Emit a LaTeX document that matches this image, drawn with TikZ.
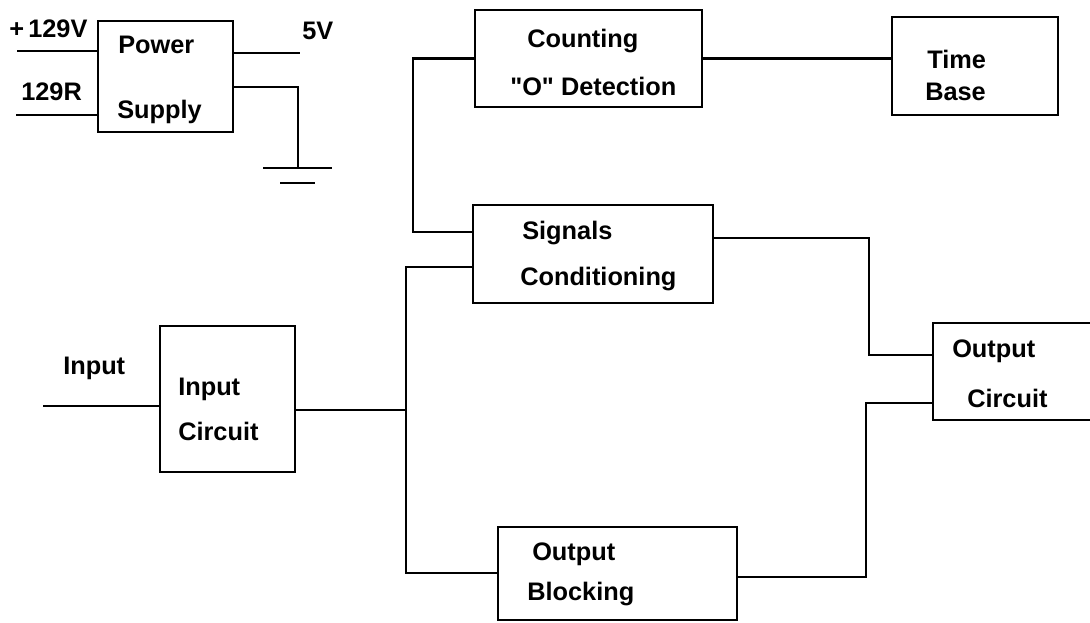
\documentclass[tikz,border=0pt]{standalone}
\usepackage{fontspec}
\setmainfont{Liberation Sans}

\tikzset{
  box/.style 2 args={draw, line width=1.9pt, inner sep=0pt, outer sep=0pt, anchor=north west,
    minimum width=#1*0.75pt, minimum height=#2*0.75pt},
  wire/.style={line width=1.9pt},
  txt/.style={anchor=base west, inner sep=0pt, font=\bfseries\fontsize{19}{21}\selectfont}
}

\begin{document}
\begin{tikzpicture}[x=0.75pt,y=0.75pt,yscale=-1,xscale=1]
    \clip (0,0) rectangle (1090,622);
    % blocks
    \node [box={135}{111}] (ps) at (98,21) {};
    \node [box={227}{97}] (cnt) at (475,10) {};
    \node [box={166}{98}] (tb) at (892,17) {};
    \node [box={240}{98}] (sig) at (473,205) {};
    \node [box={135}{146}] (inc) at (160,326) {};
    \node [box={239}{93}] (ob) at (498,527) {};
    \node [box={180}{97}] (oc) at (933,323) {};
    % texts
    \node [txt] (tpv) at (9,37) {+\,129V};
    \node [txt] (trr) at (21,100) {129R};
    \node [txt] (tps1) at (118,53) {Power};
    \node [txt] (tps2) at (117,118) {Supply};
    \node [txt] (t5v) at (302,39) {5V};
    \node [txt] (tcn1) at (527,47) {Counting};
    \node [txt] (tcn2) at (510,95) {\textquotedbl O\textquotedbl{} Detection};
    \node [txt] (ttb1) at (927,68) {Time};
    \node [txt] (ttb2) at (925,100) {Base};
    \node [txt] (tsg1) at (522,239) {Signals};
    \node [txt] (tsg2) at (520,285) {Conditioning};
    \node [txt] (tin) at (63,374) {Input};
    \node [txt] (tic1) at (178,395) {Input};
    \node [txt] (tic2) at (178,440) {Circuit};
    \node [txt] (tob1) at (532,560) {Output};
    \node [txt] (tob2) at (527,600) {Blocking};
    \node [txt] (toc1) at (952,357) {Output};
    \node [txt] (toc2) at (967,407) {Circuit};
    % wire points
    \coordinate (pv) at (17,51);
    \coordinate (pr) at (16,115);
    \coordinate (p5) at (300,53);
    \coordinate (gt) at (298,87);
    \coordinate (gb) at (298,168);
    \coordinate (gl1) at (263,168);
    \coordinate (gr1) at (332,168);
    \coordinate (gl2) at (280,183);
    \coordinate (gr2) at (315,183);
    \coordinate (inA) at (43,406);
    \coordinate (busA) at (413,232);
    \coordinate (busB) at (406,410);
    \coordinate (busT) at (406,267);
    \coordinate (busBot) at (406,573);
    \coordinate (busC1) at (869,238);
    \coordinate (busC2) at (869,355);
    \coordinate (busD1) at (866,577);
    \coordinate (busD2) at (866,403);
    % power supply wiring
    \draw [wire] (pv) -- (pv -| ps.west);
    \draw [wire] (pr) -- (pr -| ps.west);
    \draw [wire] (p5 -| ps.east) -- (p5);
    \draw [wire] (gt -| ps.east) -- (gt) -- (gb);
    \draw [wire] (gl1) -- (gr1);
    \draw [wire] (gl2) -- (gr2);
    % signal wiring
    \draw [wire] (cnt.east) -- (cnt.east -| tb.west);
    \draw [wire] (cnt.west) -| (busA) -- (busA -| sig.west);
    \draw [wire] (inA) -- (inA -| inc.west);
    \draw [wire] (busB -| inc.east) -- (busB);
    \draw [wire] (busT -| sig.west) -- (busT) -- (busBot) -- (busBot -| ob.west);
    \draw [wire] (busC1 -| sig.east) -- (busC1) -- (busC2) -- (busC2 -| oc.west);
    \draw [wire] (busD1 -| ob.east) -- (busD1) -- (busD2) -- (busD2 -| oc.west);
\end{tikzpicture}
\end{document}
